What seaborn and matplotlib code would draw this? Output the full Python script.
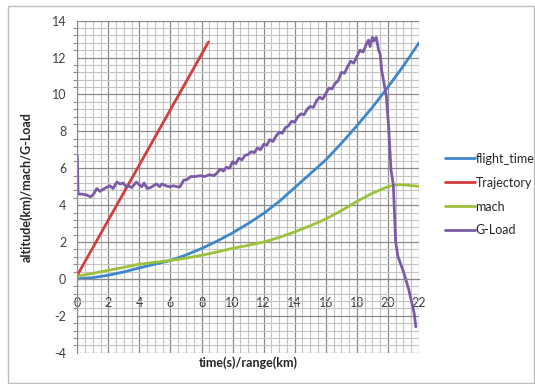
import matplotlib
matplotlib.use("Agg")
import matplotlib.pyplot as plt
import matplotlib.patches as mpatches
from matplotlib.ticker import MultipleLocator
import seaborn as sns
import pandas as pd

# ---- data -------------------------------------------------------------
flight_x = [0, 1, 2, 3, 4, 5, 6, 7, 8, 9, 10, 11, 12, 13, 14, 15, 16, 17,
            18, 19, 20, 21, 22]
flight_y = [0.0, 0.07, 0.2, 0.38, 0.6, 0.8, 1.0, 1.3, 1.65, 2.05, 2.5, 3.0,
            3.55, 4.2, 4.95, 5.7, 6.45, 7.35, 8.3, 9.3, 10.4, 11.55, 12.8]

traj_x = [0, 8.45]
traj_y = [0.2, 12.85]

mach_x = [0, 1, 2, 3, 4, 5, 6, 7, 8, 9, 10, 11, 12, 13, 14, 15, 16, 17, 18,
          19, 20, 20.5, 21, 22]
mach_y = [0.15, 0.3, 0.47, 0.63, 0.8, 0.9, 1.0, 1.13, 1.28, 1.46, 1.66, 1.82,
          2.0, 2.25, 2.55, 2.88, 3.25, 3.7, 4.2, 4.65, 5.0, 5.1, 5.1, 5.02]

gload_x = [0.0, 0.05, 0.3, 0.6, 0.85, 1.05, 1.25, 1.45, 1.65, 1.85, 2.1, 2.3,
           2.55, 2.75, 2.95, 3.15, 3.3, 3.5, 3.8, 4.0, 4.15, 4.3, 4.5, 4.7,
           4.9, 5.1, 5.3, 5.45, 5.7, 5.95, 6.2, 6.4, 6.6, 6.85, 7.1, 7.3,
           7.6, 7.9, 8.2, 8.5, 8.8, 9.0, 9.2, 9.4, 9.6, 9.8, 10.0, 10.2,
           10.4, 10.6, 10.8, 11.0, 11.2, 11.4, 11.6, 11.8, 12.0, 12.2, 12.4,
           12.6, 12.8, 13.0, 13.2, 13.4, 13.6, 13.8, 14.0, 14.2, 14.4, 14.6,
           14.8, 15.0, 15.2, 15.4, 15.6, 15.8, 16.0, 16.2, 16.4, 16.6, 16.8,
           17.0, 17.2, 17.4, 17.6, 17.8, 18.0, 18.2, 18.4, 18.6, 18.75,
           18.85, 19.0, 19.1, 19.25, 19.4, 19.5, 19.6, 19.75, 19.9, 20.05,
           20.2, 20.35, 20.5, 20.65, 21.0, 21.35, 21.7, 21.8]
gload_y = [6.7, 4.6, 4.6, 4.55, 4.45, 4.6, 4.9, 4.75, 4.85, 4.95, 5.05, 4.9,
           5.25, 5.15, 5.2, 5.0, 5.05, 4.95, 5.25, 5.1, 5.0, 5.2, 4.9, 4.95,
           5.05, 5.15, 5.0, 5.15, 5.05, 5.0, 5.05, 5.0, 4.98, 5.35, 5.4, 5.55,
           5.55, 5.6, 5.55, 5.65, 5.6, 5.75, 5.95, 5.85, 6.05, 6.0, 6.35, 6.25,
           6.55, 6.45, 6.7, 6.75, 6.9, 6.85, 7.1, 7.0, 7.3, 7.25, 7.55, 7.45,
           7.75, 7.95, 7.9, 8.2, 8.3, 8.55, 8.5, 8.8, 8.95, 8.9, 9.2, 9.35,
           9.3, 9.65, 9.85, 9.75, 10.05, 10.35, 10.3, 10.6, 10.75, 11.2, 11.15,
           11.5, 11.8, 11.7, 12.05, 12.4, 12.3, 12.7, 12.95, 12.6, 13.1, 12.9,
           13.1, 12.4, 12.2, 11.3, 10.6, 9.9, 8.2, 5.9, 5.1, 2.0, 1.2,
           0.4, -0.6, -1.9, -2.6]

series_names = ["flight_time", "Trajectory", "mach", "G-Load"]
series_colors = ["#3E87CB", "#D23F3C", "#9CC23D", "#7B5BA6"]
x_ticks = [0, 2, 4, 6, 8, 10, 12, 14, 16, 18, 20, 22]
y_ticks = [-4, -2, 0, 2, 4, 6, 8, 10, 12, 14]

frames = []
for name, xs, ys in zip(series_names,
                        [flight_x, traj_x, mach_x, gload_x],
                        [flight_y, traj_y, mach_y, gload_y]):
    frames.append(pd.DataFrame({"x": xs, "y": ys, "series": name}))
df = pd.concat(frames, ignore_index=True)

# ---- figure -------------------------------------------------------------
sns.set_style("white")
plt.rcParams["font.family"] = ["Lato", "DejaVu Sans"]

fig = plt.figure(figsize=(5.35, 3.84), dpi=100)
ax = fig.add_axes([0.1445, 0.0815, 0.6386, 0.8646])

ax.xaxis.set_major_locator(MultipleLocator(2))
ax.xaxis.set_minor_locator(MultipleLocator(0.5))
ax.yaxis.set_major_locator(MultipleLocator(2))
ax.yaxis.set_minor_locator(MultipleLocator(0.4))
ax.grid(which="minor", color="#c4c4c4", linewidth=0.8)
ax.grid(which="major", color="#8a8a8a", linewidth=0.9)
ax.set_axisbelow(True)

sns.lineplot(data=df, x="x", y="y", hue="series", hue_order=series_names,
             palette=series_colors, estimator=None, sort=False,
             linewidth=2.0, ax=ax)

ax.set_xlim(0, 22)
ax.set_ylim(-4, 14)
ax.set_xticks(x_ticks)
ax.set_yticks(y_ticks)
ax.set_xticklabels([str(t) for t in x_ticks])
ax.set_yticklabels([str(t) for t in y_ticks])

for side in ["top", "right"]:
    ax.spines[side].set_visible(False)
ax.spines["left"].set_color("#8a8a8a")
ax.spines["bottom"].set_color("#8a8a8a")
ax.spines["bottom"].set_position(("data", 0))

ax.tick_params(axis="x", which="both", length=0, pad=13,
               labelsize=9, labelcolor="#404040")
ax.tick_params(axis="y", which="major", length=5, width=0.8,
               color="#8a8a8a", labelsize=9, labelcolor="#404040", pad=3)
ax.tick_params(axis="y", which="minor", length=3, width=0.8,
               color="#8a8a8a", left=True)

ax.set_xlabel("time(s)/range(km)", fontsize=9, fontweight="bold",
              color="#262626")
ax.set_ylabel("altitude(km)/mach/G-Load", fontsize=9, fontweight="bold",
              color="#262626")
ax.xaxis.set_label_coords(0.5, -0.012)
ax.yaxis.set_label_coords(-0.13, 0.5)

leg = ax.legend(loc="upper left", bbox_to_anchor=(0.822, 0.615),
                bbox_transform=fig.transFigure, frameon=False,
                fontsize=9, handlelength=2.4, handletextpad=0.05,
                labelspacing=0.95, borderaxespad=0)
for txt in leg.get_texts():
    txt.set_color("#262626")

# chart border
fig.patches.append(mpatches.Rectangle((0.015, 0.002), 0.984, 0.982,
                                      transform=fig.transFigure,
                                      fill=False, edgecolor="#bdbdbd",
                                      linewidth=1.0))

fig.savefig("out.png", dpi=100)
